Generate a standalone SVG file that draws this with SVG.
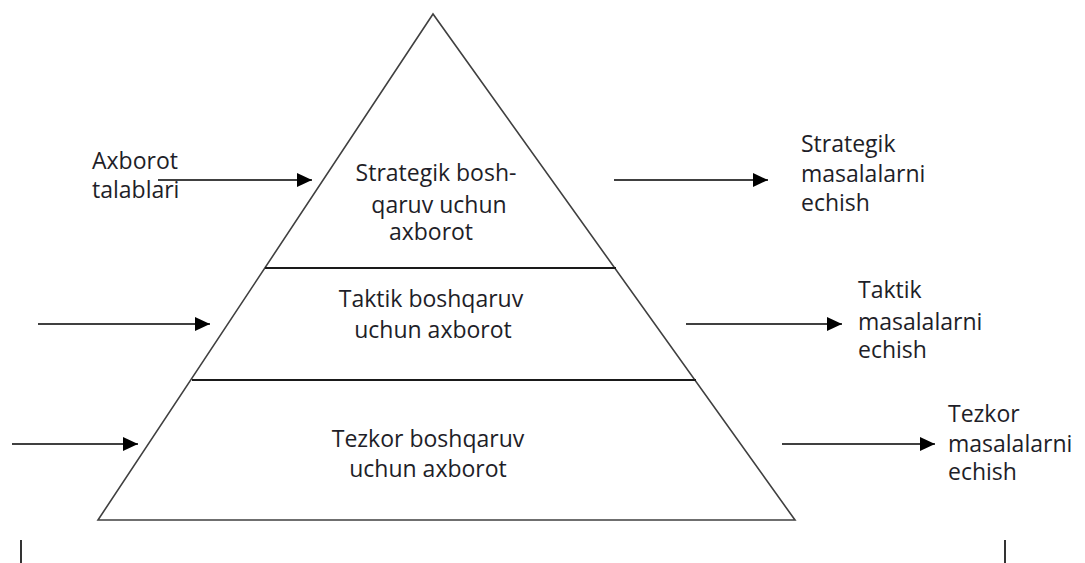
<svg xmlns="http://www.w3.org/2000/svg" width="1085" height="563" viewBox="0 0 1085 563">
<style>
.t{font-family:"Open Sans","Noto Sans","Liberation Sans",sans-serif;font-size:23px;fill:#1e1e28}
.c{text-anchor:middle}
.edge{stroke:#000;stroke-width:1.6;fill:none}
.tri{stroke:#404040;stroke-width:1.6;fill:#fff}
.sep{stroke:#1a1a1a;stroke-width:1.8}
</style>
<defs>
<marker id="ah" markerUnits="userSpaceOnUse" markerWidth="16" markerHeight="14" refX="15" refY="7" orient="auto">
<path d="M0,0 L15,7 L0,14 Z" fill="#000"/>
</marker>
</defs>
<rect width="1085" height="563" fill="#fff"/>
<g id="pyramid">
<polygon class="tri" points="433,14 98,520 795,520"/>
<line class="sep" x1="265" y1="268" x2="616" y2="268"/>
<line class="sep" x1="192" y1="380" x2="696" y2="380"/>
</g>
<g id="level-strategic">
<text class="t c" x="436" y="181">Strategik bosh-</text>
<text class="t c" x="439" y="213">qaruv uchun</text>
<text class="t c" x="431" y="240">axborot</text>
</g>
<g id="level-tactical">
<text class="t c" x="431" y="307">Taktik boshqaruv</text>
<text class="t c" x="433" y="338">uchun axborot</text>
</g>
<g id="level-operational">
<text class="t c" x="428" y="447">Tezkor boshqaruv</text>
<text class="t c" x="428" y="477">uchun axborot</text>
</g>
<g id="input-label">
<text class="t" x="92" y="169">Axborot</text>
<text class="t" x="92" y="198">talablari</text>
</g>
<g id="out-strategic">
<text class="t" x="801" y="152">Strategik</text>
<text class="t" x="801" y="182">masalalarni</text>
<text class="t" x="801" y="211">echish</text>
</g>
<g id="out-tactical">
<text class="t" x="858" y="298">Taktik</text>
<text class="t" x="858" y="330">masalalarni</text>
<text class="t" x="858" y="358">echish</text>
</g>
<g id="out-operational">
<text class="t" x="948" y="422">Tezkor</text>
<text class="t" x="948" y="452">masalalarni</text>
<text class="t" x="948" y="480">echish</text>
</g>
<g id="connectors">
<line class="edge" x1="158" y1="180" x2="312" y2="180" marker-end="url(#ah)"/>
<line class="edge" x1="38" y1="324" x2="210" y2="324" marker-end="url(#ah)"/>
<line class="edge" x1="12" y1="444" x2="138" y2="444" marker-end="url(#ah)"/>
<line class="edge" x1="614" y1="180" x2="768" y2="180" marker-end="url(#ah)"/>
<line class="edge" x1="686" y1="324" x2="842" y2="324" marker-end="url(#ah)"/>
<line class="edge" x1="782" y1="444" x2="935" y2="444" marker-end="url(#ah)"/>
<line class="edge" x1="21" y1="540" x2="21" y2="563"/>
<line class="edge" x1="1005" y1="540" x2="1005" y2="563"/>
</g>
</svg>
